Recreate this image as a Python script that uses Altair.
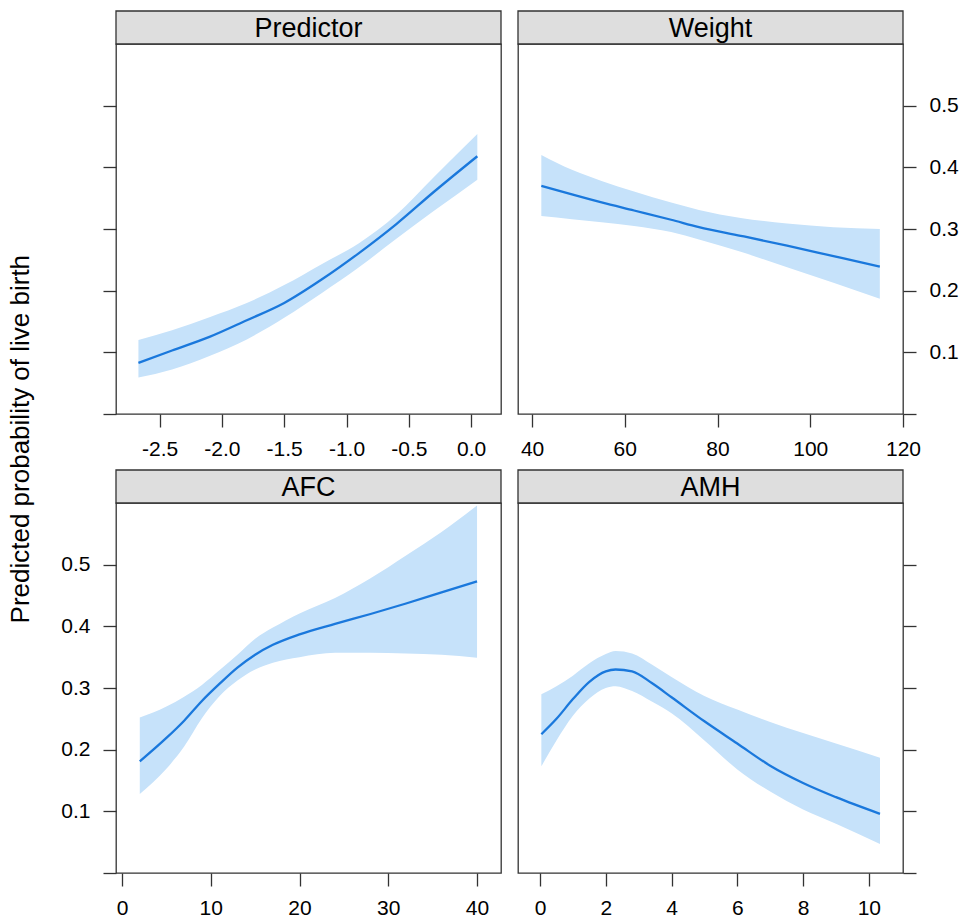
import altair as alt
import pandas as pd

FONT = "Liberation Sans"
LINE = "#1a78dc"
BAND = "#c6e2fa"
STRIP = "#dedede"
INK = "#333333"

# ---- data ----
pred_x = [-2.67, -2.4, -2.1, -1.8, -1.5, -1.2, -0.9, -0.6, -0.3, 0.05]
pred_fit = [0.083, 0.103, 0.125, 0.152, 0.180, 0.218, 0.261, 0.308, 0.360, 0.418]
pred_lo = [0.059, 0.072, 0.094, 0.121, 0.156, 0.196, 0.238, 0.284, 0.329, 0.380]
pred_hi = [0.120, 0.136, 0.157, 0.180, 0.209, 0.243, 0.277, 0.323, 0.384, 0.454]

wt_x = [42, 48.6, 55, 62, 70, 76, 85, 95, 105, 115]
wt_fit = [0.370, 0.356, 0.343, 0.330, 0.315, 0.303, 0.289, 0.273, 0.256, 0.239]
wt_lo = [0.321, 0.316, 0.311, 0.305, 0.295, 0.283, 0.263, 0.238, 0.213, 0.187]
wt_hi = [0.420, 0.396, 0.378, 0.361, 0.343, 0.331, 0.318, 0.309, 0.303, 0.300]

afc_x = [2, 5, 7, 9, 11, 13, 15, 17, 20, 24, 28, 32, 36, 40]
afc_fit = [0.181, 0.219, 0.247, 0.279, 0.307, 0.333, 0.354, 0.370, 0.387, 0.404, 0.420, 0.437, 0.455, 0.473]
afc_lo = [0.128, 0.169, 0.205, 0.251, 0.287, 0.312, 0.330, 0.341, 0.350, 0.357, 0.357, 0.356, 0.354, 0.349]
afc_hi = [0.252, 0.270, 0.286, 0.305, 0.329, 0.354, 0.380, 0.398, 0.421, 0.446, 0.478, 0.515, 0.553, 0.596]

amh_x = [0.04, 0.5, 1.0, 1.5, 2.0, 2.3, 2.8, 3.4, 4.0, 5.0, 6.0, 7.0, 8.0, 9.0, 10.34]
amh_fit = [0.225, 0.250, 0.282, 0.310, 0.327, 0.330, 0.327, 0.308, 0.285, 0.246, 0.210, 0.174, 0.146, 0.123, 0.096]
amh_lo = [0.173, 0.215, 0.255, 0.283, 0.300, 0.303, 0.295, 0.278, 0.259, 0.215, 0.168, 0.132, 0.103, 0.080, 0.047]
amh_hi = [0.290, 0.303, 0.320, 0.340, 0.355, 0.360, 0.356, 0.338, 0.318, 0.287, 0.265, 0.245, 0.227, 0.210, 0.187]

y_ticks = [0.0, 0.1, 0.2, 0.3, 0.4, 0.5]
pred_ticks = [-2.5, -2.0, -1.5, -1.0, -0.5, 0.0]
wt_ticks = [40, 60, 80, 100, 120]
afc_ticks = [0, 10, 20, 30, 40]
amh_ticks = [0, 2, 4, 6, 8, 10]

W, H, SH = 385, 370, 33


def panel(name, xs, fit, lo, hi, xdomain, xticks, xexpr, yorient, ylabels):
    df = pd.DataFrame({"x": xs, "fit": fit, "lower": lo, "upper": hi})
    xaxis = alt.Axis(values=xticks, labelExpr=xexpr, title=None, orient="bottom",
                     labelPadding=11)
    xenc = alt.X("x:Q", scale=alt.Scale(domain=xdomain, nice=False, zero=False),
                 axis=xaxis, title=None)
    yscale = alt.Scale(domain=[0, 0.6], nice=False, zero=False)
    yaxis = alt.Axis(orient=yorient, values=y_ticks, labels=ylabels, title=None,
                     labelPadding=13,
                     labelExpr="datum.value == 0 ? '' : format(datum.value, '.1f')")
    base = alt.Chart(df)
    band = base.mark_area(color=BAND, opacity=1, interpolate="monotone").encode(
        x=xenc, y=alt.Y("lower:Q", scale=yscale, axis=yaxis, title=None), y2="upper:Q")
    line = base.mark_line(color=LINE, strokeWidth=2.3, interpolate="monotone").encode(
        x=xenc, y=alt.Y("fit:Q", scale=yscale, axis=yaxis, title=None))
    lab = pd.DataFrame({"label": [name]})
    strip = alt.Chart(lab).mark_rect(fill=STRIP, stroke=INK, strokeWidth=1.3).encode(
        x=alt.value(0), x2=alt.value(W), y=alt.value(-SH), y2=alt.value(0))
    text = alt.Chart(lab).mark_text(font=FONT, fontSize=27, baseline="alphabetic",
                                    align="center", color="black").encode(
        x=alt.value(W / 2), y=alt.value(-7), text="label:N")
    return alt.layer(band, line, strip, text).properties(width=W, height=H)


neg = "(datum.value < 0 ? '-' : '') + format(abs(datum.value), '.1f')"
intf = "format(datum.value, 'd')"

tl = panel("Predictor", pred_x, pred_fit, pred_lo, pred_hi, [-2.85, 0.24], pred_ticks, neg, "left", False)
tr = panel("Weight", wt_x, wt_fit, wt_lo, wt_hi, [36.97, 120], wt_ticks, intf, "right", True)
bl = panel("AFC", afc_x, afc_fit, afc_lo, afc_hi, [-0.68, 42.7], afc_ticks, intf, "left", True)
br = panel("AMH", amh_x, amh_fit, amh_lo, amh_hi, [-0.67, 11.04], amh_ticks, intf, "right", False)

chart = alt.concat(tl, tr, bl, br, columns=2,
                   spacing=alt.RowColnumber(row=8, column=13)).properties(
    align="each",
    bounds="full",
    padding={"left": 8, "top": 9, "right": 5, "bottom": 5},
    title=alt.TitleParams("Predicted probability of live birth", orient="left",
                          anchor="middle", fontSize=26, font=FONT,
                          fontWeight="normal", color="black", offset=26, dx=25),
).configure_view(
    stroke=INK, strokeWidth=1.3
).configure_axis(
    domain=False, grid=False, tickColor=INK, tickWidth=1.3, tickSize=13,
    labelFont=FONT, labelFontSize=21, labelColor="black",
    labelFlush=False, labelOverlap=False
)

chart.save("out.html", embed_options={"renderer": "svg", "actions": False})
